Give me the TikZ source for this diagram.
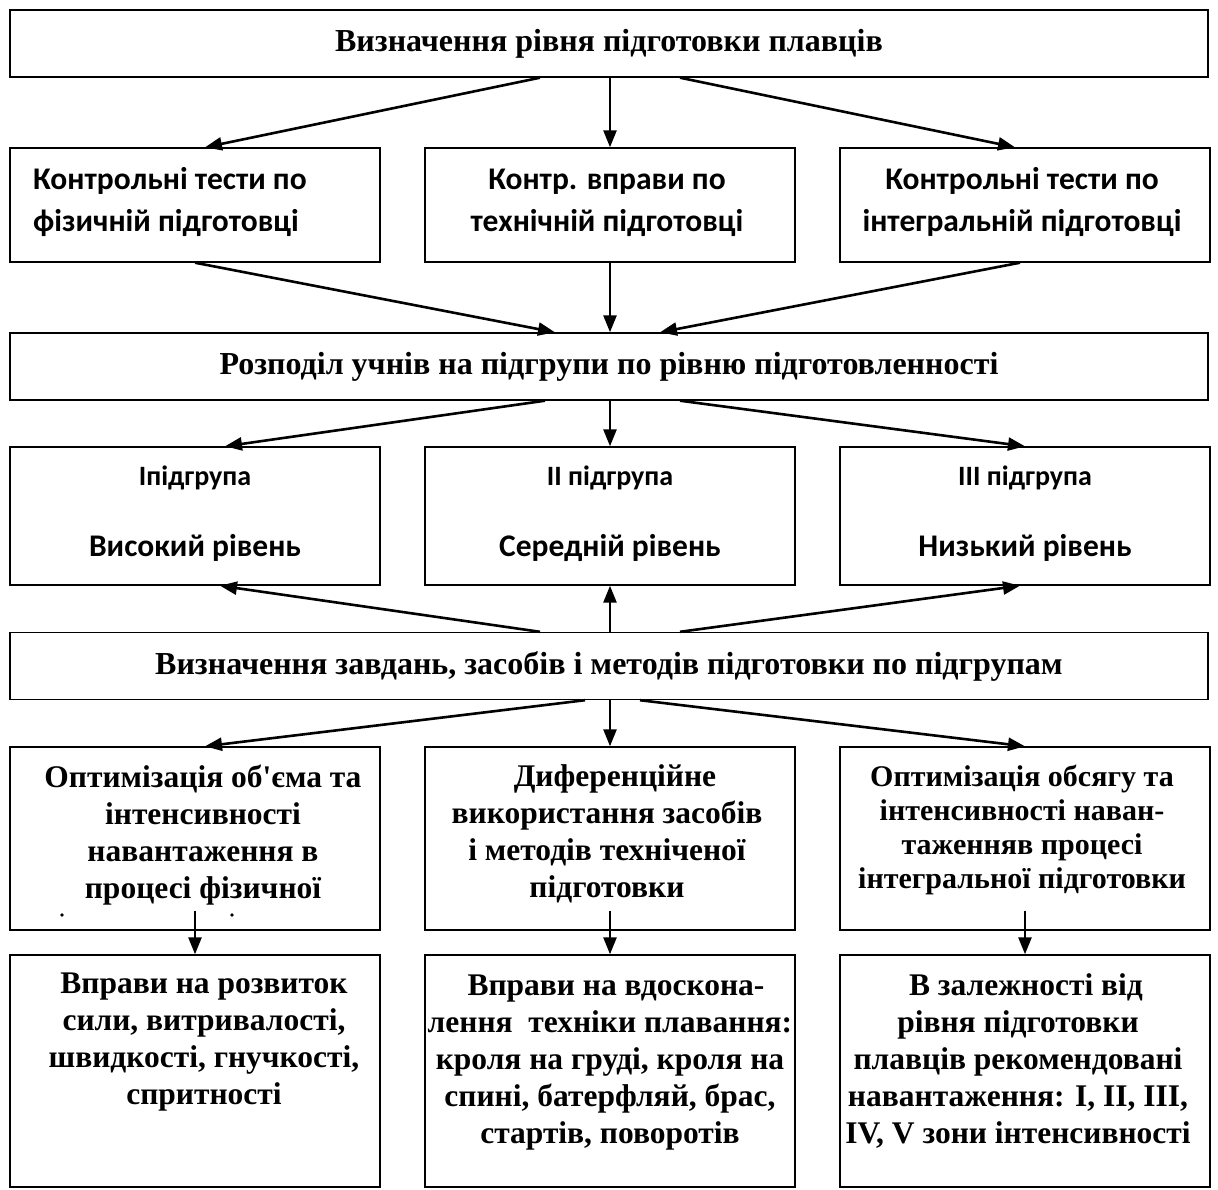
\documentclass[tikz,border=0pt]{standalone}
\usepackage{fontspec}
\setmainfont{Liberation Serif}
\newfontfamily\calib{Carlito}
\usetikzlibrary{arrows.meta}
\begin{document}
\begin{tikzpicture}[x=1pt,y=-1pt,
  box/.style={draw,line width=1.4pt,inner sep=0pt,minimum width=370pt},
  wide/.style={draw,line width=1.4pt,inner sep=0pt,minimum width=1198pt,minimum height=67pt,font=\fontsize{32}{38}\selectfont\bfseries},
  arr/.style={line width=2.6pt,-{Triangle[length=17pt,width=13pt]}},
  txt/.style={inner sep=0pt,align=center,anchor=base,font=\fontsize{31.5}{36.8}\selectfont\bfseries},
  stxt/.style={inner sep=0pt,align=center,anchor=base,font=\calib\fontsize{31.5}{42}\selectfont\bfseries},
  sub/.style={stxt,font=\calib\fontsize{28}{34}\selectfont\bfseries}]
\useasboundingbox[fill=white] (0,0) rectangle (1218,1189);
% top
\node[wide] (t1) at (609,43.5) {Визначення рівня підготовки плавців};
\node[box,minimum height=114pt] (a1) at (195,205) {};
\node[box,minimum height=114pt] (a2) at (610,205) {};
\node[box,minimum height=114pt] (a3) at (1025,205) {};
\node[stxt,align=left,anchor=base west] (a1t) at (33,231) {Контрольні тести по\\фізичній підготовці};
\node[stxt] (a2t) at (607,231) {Контр. вправи по\\технічній підготовці};
\node[stxt] (a3t) at (1022,231) {Контрольні тести по\\інтегральній підготовці};
\node[wide] (t2) at (609,366.5) {Розподіл учнів на підгрупи по рівню підготовленності};
\node[box,minimum height=138pt] (b1) at (195,516) {};
\node[box,minimum height=138pt] (b2) at (610,516) {};
\node[box,minimum height=138pt] (b3) at (1025,516) {};
\node[sub] (b1a) at (195,485) {Іпідгрупа};
\node[sub] (b2a) at (610,485) {ІІ підгрупа};
\node[sub] (b3a) at (1025,485) {ІІІ підгрупа};
\node[stxt] (b1b) at (195,556) {Високий рівень};
\node[stxt] (b2b) at (610,556) {Середній рівень};
\node[stxt] (b3b) at (1025,556) {Низький рівень};
\node[wide] (t3) at (609,666) {Визначення завдань, засобів і методів підготовки по підгрупам};
\node[box,minimum height=183pt] (c1) at (195,838.5) {};
\node[box,minimum height=183pt] (c2) at (610,838.5) {};
\node[box,minimum height=183pt] (c3) at (1025,838.5) {};
\node[txt] (c1t) at (203,898) {Оптимізація об\textquotesingle єма та\\інтенсивності\\навантаження в\\процесі фізичної};
\node[txt] (c2t) at (607,897) {\hspace*{16pt}Диференційне\\використання засобів\\і методів техніченої\\підготовки};
\node[txt,font=\fontsize{30}{34}\selectfont\bfseries] (c3t) at (1022,888) {Оптимізація обсягу та\\інтенсивності наван-\\таженняв процесі\\інтегральної підготовки};
\fill (62,915) circle (1.8pt);
\fill (232,915) circle (1.8pt);
\node[box,minimum height=232pt] (d1) at (195,1071) {};
\node[box,minimum height=232pt] (d2) at (610,1071) {};
\node[box,minimum height=232pt] (d3) at (1025,1071) {};
\node[txt] (d1t) at (204,1104) {Вправи на розвиток\\сили, витривалості,\\швидкості, гнучкості,\\спритності};
\node[txt] (d2t) at (610,1143) {\hspace*{12pt}Вправи на вдоскона-\\лення\ \ техніки плавання:\\кроля на груді, кроля на\\спині, батерфляй, брас,\\стартів, поворотів};
\node[txt] (d3t) at (1018,1143) {\hspace*{16pt}В залежності від\\рівня підготовки\\плавців рекомендовані\\навантаження: I, II, III,\\IV, V зони інтенсивності};
% arrows
\draw[arr] ([xshift=-69pt]t1.south) -- ([xshift=10pt]a1.north);
\draw[arr] ([xshift=1pt]t1.south) -- (a2.north);
\draw[arr] ([xshift=71pt]t1.south) -- ([xshift=-10pt]a3.north);
\draw[arr] (a1.south) -- ([xshift=-54pt]t2.north);
\draw[arr] (a2.south) -- ([xshift=1pt]t2.north);
\draw[arr] ([xshift=-5pt]a3.south) -- ([xshift=51pt]t2.north);
\draw[arr] ([xshift=-64pt]t2.south) -- ([xshift=30pt]b1.north);
\draw[arr] ([xshift=1pt]t2.south) -- (b2.north);
\draw[arr] ([xshift=71pt]t2.south) -- (b3.north);
\draw[arr] ([xshift=-69pt]t3.north) -- ([xshift=25pt]b1.south);
\draw[arr] ([xshift=1pt]t3.north) -- (b2.south);
\draw[arr] ([xshift=71pt]t3.north) -- ([xshift=-5pt]b3.south);
\draw[arr] ([xshift=-24pt]t3.south) -- ([xshift=10pt]c1.north);
\draw[arr] ([xshift=1pt]t3.south) -- (c2.north);
\draw[arr] ([xshift=31pt]t3.south) -- (c3.north);
\draw[arr] ([yshift=20pt]c1.south) -- (d1.north);
\draw[arr] ([yshift=20pt]c2.south) -- (d2.north);
\draw[arr] ([yshift=20pt]c3.south) -- (d3.north);
\end{tikzpicture}
\end{document}
